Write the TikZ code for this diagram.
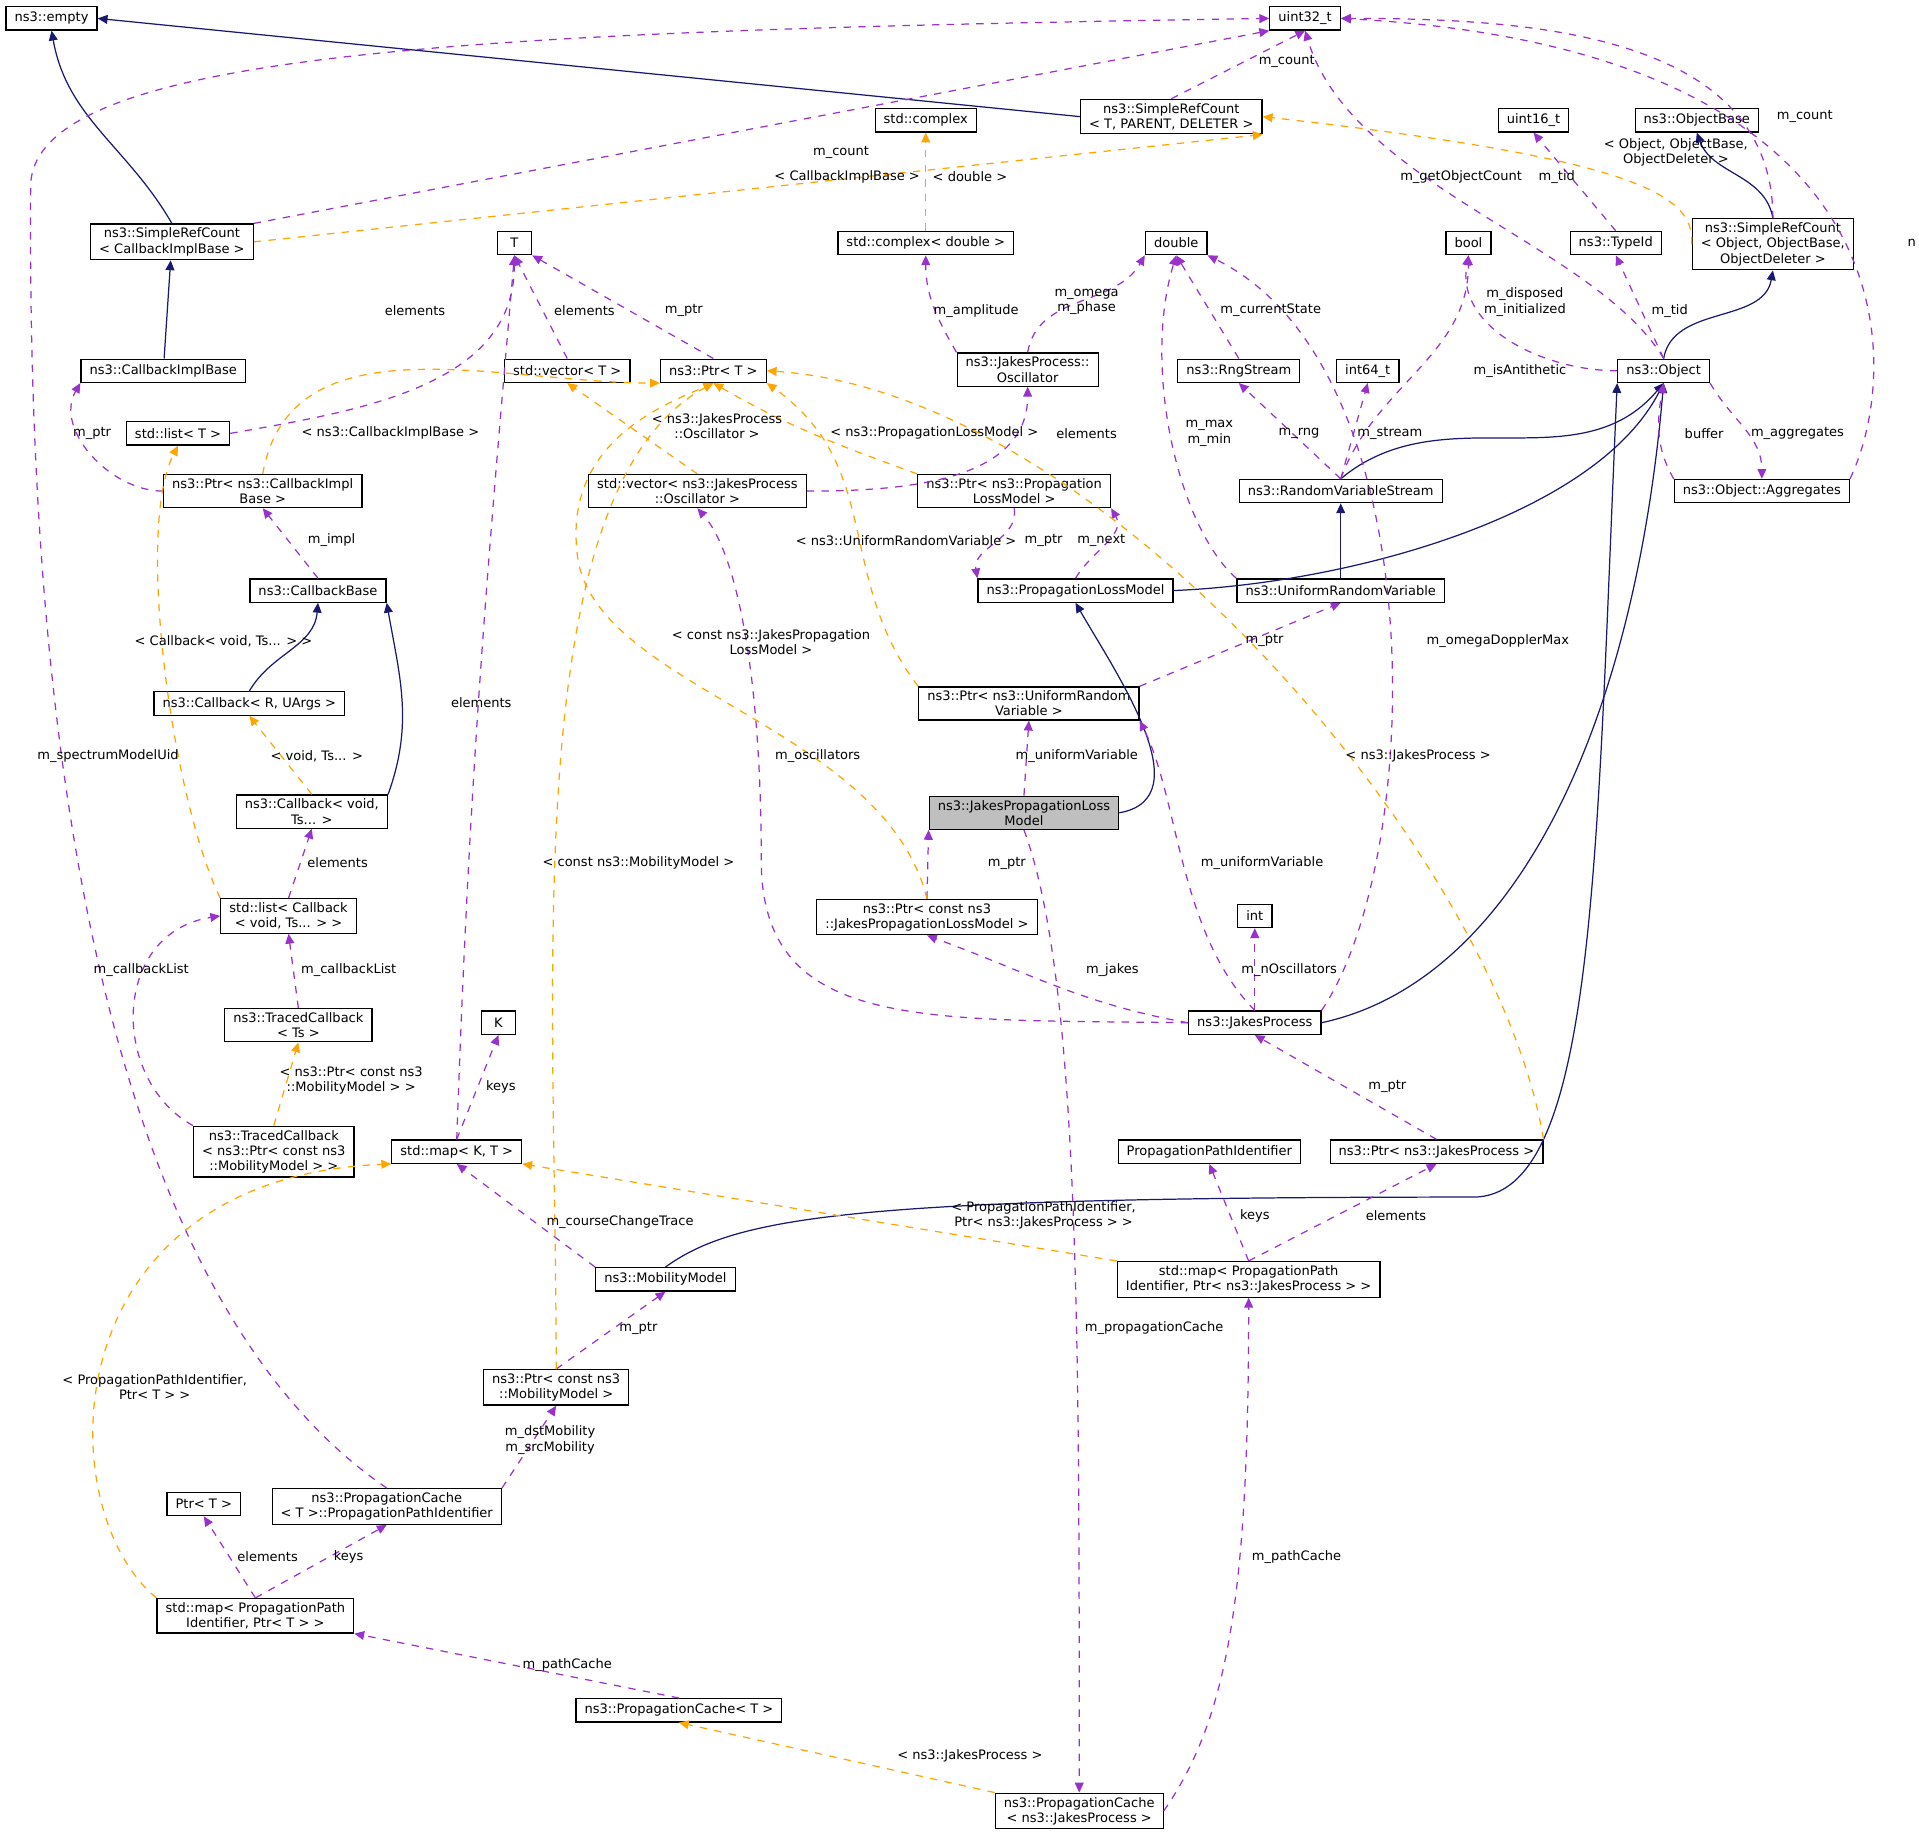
\documentclass[tikz,border=0pt]{standalone}
\usepackage{fontspec}
\setmainfont{DejaVu Sans}
\usetikzlibrary{arrows.meta}
\definecolor{inhcol}{RGB}{25,25,112}
\definecolor{usecol}{RGB}{153,50,204}
\definecolor{tplcol}{RGB}{255,165,0}
\tikzset{
  box/.style={draw, fill=white, inner xsep=3.5pt, inner ysep=1.6pt, minimum height=9.5pt, minimum width=14pt, align=center, font=\fontsize{5.3}{6.2}\selectfont},
  lab/.style={align=center, inner sep=0pt, font=\fontsize{5.3}{6.2}\selectfont},
  inh/.style={draw=inhcol, -{Triangle[length=4pt,width=3.6pt,fill=inhcol]}},
  use/.style={draw=usecol, dashed, -{Triangle[length=4pt,width=3.6pt,fill=usecol]}},
  tpl/.style={draw=tplcol, dashed, -{Triangle[length=4pt,width=3.6pt,fill=tplcol]}},
}
\begin{document}
\begin{tikzpicture}[x=0.5pt,y=-0.5pt,line width=0.5pt]
  \useasboundingbox[fill=white] (0,0) rectangle (1563,1492);

  % classes
  \node[box] (empty) at (42,15) {ns3::empty};
  \node[box] (uint32) at (1063,15) {uint32\_t};
  \node[box] (srcTPD) at (954,95) {ns3::SimpleRefCount\\{}< T, PARENT, DELETER >};
  \node[box] (stdcomplex) at (754,98) {std::complex};
  \node[box] (uint16) at (1249,98) {uint16\_t};
  \node[box] (objbase) at (1382,98) {ns3::ObjectBase};
  \node[box] (srcCIB) at (140,197) {ns3::SimpleRefCount\\{}< CallbackImplBase >};
  \node[box] (T) at (419,198) {T};
  \node[box] (complexd) at (754,198) {std::complex< double >};
  \node[box] (double) at (958,198) {double};
  \node[box] (bool) at (1196,198) {bool};
  \node[box] (typeid) at (1316,198) {ns3::TypeId};
  \node[box] (srcObj) at (1444,199) {ns3::SimpleRefCount\\{}< Object, ObjectBase,\\ObjectDeleter >};
  \node[box] (cbimplbase) at (133,302) {ns3::CallbackImplBase};
  \node[box] (stdvecT) at (462,302) {std::vector< T >};
  \node[box] (ptrT) at (581,302) {ns3::Ptr< T >};
  \node[box] (oscillator) at (837,301) {ns3::JakesProcess::\\Oscillator};
  \node[box] (rngstream) at (1009,302) {ns3::RngStream};
  \node[box] (int64) at (1114,302) {int64\_t};
  \node[box] (object) at (1355,302) {ns3::Object};
  \node[box] (stdlistT) at (145,353) {std::list< T >};
  \node[box] (ptrcib) at (214,400) {ns3::Ptr< ns3::CallbackImpl\\Base >};
  \node[box] (vecosc) at (568,400) {std::vector< ns3::JakesProcess\\::Oscillator >};
  \node[box] (ptrplm) at (826,400) {ns3::Ptr< ns3::Propagation\\LossModel >};
  \node[box] (rvs) at (1092,400) {ns3::RandomVariableStream};
  \node[box] (aggregates) at (1435,400) {ns3::Object::Aggregates};
  \node[box] (cbbase) at (259,481) {ns3::CallbackBase};
  \node[box] (plm) at (876,481) {ns3::PropagationLossModel};
  \node[box] (urv) at (1092,481) {ns3::UniformRandomVariable};
  \node[box] (cbRU) at (203,573) {ns3::Callback< R, UArgs >};
  \node[box] (ptrurv) at (838,573) {ns3::Ptr< ns3::UniformRandom\\Variable >};
  \node[box, fill={rgb,255:red,191;green,191;blue,191}] (jplm) at (834,662) {ns3::JakesPropagationLoss\\Model};
  \node[box] (cbvoid) at (254,661) {ns3::Callback< void,\\Ts... >};
  \node[box] (listcb) at (235,746) {std::list< Callback\\{}< void, Ts... > >};
  \node[box] (ptrcjplm) at (755,747) {ns3::Ptr< const ns3\\::JakesPropagationLossModel >};
  \node[box] (int) at (1022,746) {int};
  \node[box] (tracedTs) at (243,835) {ns3::TracedCallback\\{}< Ts >};
  \node[box] (jakes) at (1022,833) {ns3::JakesProcess};
  \node[box] (K) at (406,833) {K};
  \node[box] (tracedptr) at (223,938) {ns3::TracedCallback\\{}< ns3::Ptr< const ns3\\::MobilityModel > >};
  \node[box] (mapKT) at (372,938) {std::map< K, T >};
  \node[box] (ppi) at (985,938) {PropagationPathIdentifier};
  \node[box] (ptrjakes) at (1170,938) {ns3::Ptr< ns3::JakesProcess >};
  \node[box] (mobility) at (542,1042) {ns3::MobilityModel};
  \node[box] (mapppi) at (1017,1042) {std::map< PropagationPath\\Identifier, Ptr< ns3::JakesProcess > >};
  \node[box] (ptrcmm) at (453,1130) {ns3::Ptr< const ns3\\::MobilityModel >};
  \node[box] (ppiT) at (315,1227) {ns3::PropagationCache\\{}< T >::PropagationPathIdentifier};
  \node[box] (ptrTplain) at (166,1225) {Ptr< T >};
  \node[box] (mapppiT) at (208,1316) {std::map< PropagationPath\\Identifier, Ptr< T > >};
  \node[box] (pcT) at (553,1393) {ns3::PropagationCache< T >};
  \node[box] (pcjakes) at (879,1475) {ns3::PropagationCache\\{}< ns3::JakesProcess >};

  % inheritance
  \draw[inh] (srcCIB.north) to[out=120,in=-80] (empty.south);
  \draw[inh] (srcTPD.west) -- (empty.east);
  \draw[inh] (cbimplbase) -- (srcCIB);
  \draw[inh] (srcObj.north) to[out=100,in=-70] (objbase.south);
  \draw[inh] (object.north) to[out=80,in=-100] (srcObj.south);
  \draw[inh] (rvs.north) to[out=40,in=-130] (object.south);
  \draw[inh] (plm.east) .. controls (1100,475) and (1300,420) .. (object.south);
  \draw[inh] (urv) -- (rvs);
  \draw[inh] (cbRU.north) to[out=60,in=-95] (cbbase.south);
  \draw[inh] (cbvoid.north east) to[out=70,in=-80] (cbbase.south east);
  \draw[inh] (jplm.east) to[out=10,in=-60] (plm.south);
  \draw[inh] (jakes.east) .. controls (1230,800) and (1330,600) .. (object.south);
  \draw[inh] (mobility.north) .. controls (600,990) and (700,975) .. (1200,975)
     .. controls (1300,975) and (1300,700) .. (object.south west);

  % members
  \draw[use] (srcCIB.north east) -- (uint32.south west);
  \draw[use] (srcTPD.north) -- (uint32.south);
  \draw[use] (srcObj.north) to[out=90,in=0] (uint32.east);
  \draw[use] (object.north) .. controls (1300,200) and (1100,150) .. (uint32.south);
  \draw[use] (aggregates.north east) .. controls (1550,300) and (1560,40) .. (uint32.east);
  \draw[use] (ppiT.north) .. controls (150,1100) and (20,800) .. (25,150)
     .. controls (30,40) and (400,25) .. (uint32.west);
  \draw[use] (oscillator.north) to[out=80,in=-120] (double.south west);
  \draw[use] (rngstream.north) -- (double.south);
  \draw[use] (typeid.north) -- (uint16.south);
  \draw[use] (object.west) to[out=180,in=-100] (bool.south);
  \draw[use] (object.north) -- (typeid.south);
  \draw[use] (stdlistT.east) to[out=10,in=-90] (T.south);
  \draw[use] (stdvecT.north) -- (T.south);
  \draw[use] (ptrT.north) -- (T.south east);
  \draw[use] (oscillator.north west) to[out=120,in=-90] (complexd.south);
  \draw[use] (ptrcib.west) to[out=180,in=-120] (cbimplbase.south west);
  \draw[use] (vecosc.east) to[out=0,in=-90] (oscillator.south);
  \draw[use] (urv.north west) .. controls (960,430) and (930,300) .. (double.south);
  \draw[use] (rvs.north) -- (rngstream.south);
  \draw[use] (rvs.north) -- (int64.south);
  \draw[use] (rvs.north) to[out=70,in=-90] (bool.south);
  \draw[use] (aggregates.north west) to[out=120,in=-100] (object.south);
  \draw[use] (object.south east) to[out=-60,in=90] (aggregates.north);
  \draw[use] (cbbase.north) -- (ptrcib.south);
  \draw[use] (plm.north) to[out=60,in=-60] (ptrplm.south east);
  \draw[use] (ptrplm.south) to[out=-80,in=100] (plm.north west);
  \draw[use] (ptrurv.north east) -- (urv.south);
  \draw[use] (jplm.north) -- (ptrurv.south);
  \draw[use] (listcb.north) -- (cbvoid.south);
  \draw[use] (mapKT.north) to[out=88,in=-95] (T.south);
  \draw[use] (ptrcjplm.north) -- (jplm.south west);
  \draw[use] (jakes.north) -- (int.south);
  \draw[use] (jakes.west) to[out=170,in=-20] (ptrcjplm.south);
  \draw[use] (jakes.west) .. controls (750,830) and (620,840) .. (620,700)
     .. controls (620,550) and (600,450) .. (vecosc.south);
  \draw[use] (jakes.north) .. controls (960,760) and (960,650) .. (ptrurv.south east);
  \draw[use] (jakes.north east) .. controls (1160,700) and (1170,300) .. (double.south east);
  \draw[use] (tracedTs.north) -- (listcb.south);
  \draw[use] (tracedptr.north west) .. controls (90,880) and (90,760) .. (listcb.west);
  \draw[use] (mapKT.north) -- (K.south);
  \draw[use] (ptrjakes.north) -- (jakes.south);
  \draw[use] (mobility.north west) -- (mapKT.south);
  \draw[use] (mapppi.north) -- (ppi.south);
  \draw[use] (mapppi.north) -- (ptrjakes.south);
  \draw[use] (ptrcmm.north) -- (mobility.south);
  \draw[use] (ppiT.north east) -- (ptrcmm.south);
  \draw[use] (mapppiT.north) -- (ptrTplain.south);
  \draw[use] (mapppiT.north) -- (ppiT.south);
  \draw[use] (pcT.north) -- (mapppiT.south east);
  \draw[use] (pcjakes.east) .. controls (1000,1400) and (1017,1300) .. (mapppi.south);
  \draw[use] (jplm.south) .. controls (880,800) and (879,1100) .. (pcjakes.north);

  % templates
  \draw[tpl] (srcCIB.east) -- (srcTPD.south east);
  \draw[tpl] (srcObj.west) .. controls (1380,160) and (1340,130) .. (srcTPD.east);
  \draw[tpl] (complexd) -- (stdcomplex);
  \draw[tpl] (ptrcib.north) to[out=80,in=180] (ptrT.south west);
  \draw[tpl] (vecosc.north) -- (stdvecT.south);
  \draw[tpl] (ptrplm.north west) to[out=160,in=-30] (ptrT.south);
  \draw[tpl] (ptrurv.north west) .. controls (680,470) and (720,380) .. (ptrT.south east);
  \draw[tpl] (listcb.north west) .. controls (140,650) and (110,430) .. (stdlistT.south);
  \draw[tpl] (cbvoid.north) -- (cbRU.south);
  \draw[tpl] (ptrcjplm.north) .. controls (720,590) and (480,560) .. (470,450)
     .. controls (460,360) and (540,330) .. (ptrT.south);
  \draw[tpl] (ptrcmm.north) .. controls (453,800) and (420,400) .. (ptrT.south);
  \draw[tpl] (ptrjakes.north east) .. controls (1220,700) and (900,320) .. (ptrT.east);
  \draw[tpl] (tracedptr.north) -- (tracedTs.south);
  \draw[tpl] (mapppi.north west) -- (mapKT.south east);
  \draw[tpl] (mapppiT.north west) .. controls (40,1230) and (40,960) .. (mapKT.south west);
  \draw[tpl] (pcjakes.north west) -- (pcT.south);

  % labels
  \node[lab] at (1048,50) {m\_count};
  \node[lab] at (685,124) {m\_count};
  \node[lab] at (1470,95) {m\_count};
  \node[lab] at (1190,144) {m\_getObjectCount};
  \node[lab] at (1557,198) {n};
  \node[lab] at (690,144) {< CallbackImplBase >};
  \node[lab] at (790,144) {< double >};
  \node[lab] at (1365,124) {< Object, ObjectBase,\\ObjectDeleter >};
  \node[lab] at (1268,144) {m\_tid};
  \node[lab] at (338,253) {elements};
  \node[lab] at (476,253) {elements};
  \node[lab] at (557,253) {m\_ptr};
  \node[lab] at (795,253) {m\_amplitude};
  \node[lab] at (885,246) {m\_omega\\m\_phase};
  \node[lab] at (1035,253) {m\_currentState};
  \node[lab] at (1242,246) {m\_disposed\\m\_initialized};
  \node[lab] at (1360,253) {m\_tid};
  \node[lab] at (75,353) {m\_ptr};
  \node[lab] at (318,353) {< ns3::CallbackImplBase >};
  \node[lab] at (584,347) {< ns3::JakesProcess\\::Oscillator >};
  \node[lab] at (761,353) {< ns3::PropagationLossModel >};
  \node[lab] at (885,353) {elements};
  \node[lab] at (985,353) {m\_max\\m\_min};
  \node[lab] at (1058,353) {m\_rng};
  \node[lab] at (1132,353) {m\_stream};
  \node[lab] at (1238,302) {m\_isAntithetic};
  \node[lab] at (1388,353) {buffer};
  \node[lab] at (1464,353) {m\_aggregates};
  \node[lab] at (270,440) {m\_impl};
  \node[lab] at (850,440) {m\_ptr};
  \node[lab] at (897,440) {m\_next};
  \node[lab] at (738,440) {< ns3::UniformRandomVariable >};
  \node[lab] at (182,522) {< Callback< void, Ts... > >};
  \node[lab] at (628,523) {< const ns3::JakesPropagation\\LossModel >};
  \node[lab] at (1030,522) {m\_ptr};
  \node[lab] at (392,572) {elements};
  \node[lab] at (1220,522) {m\_omegaDopplerMax};
  \node[lab] at (258,616) {< void, Ts... >};
  \node[lab] at (88,616) {m\_spectrumModelUid};
  \node[lab] at (666,616) {m\_oscillators};
  \node[lab] at (877,616) {m\_uniformVariable};
  \node[lab] at (1155,616) {< ns3::JakesProcess >};
  \node[lab] at (275,703) {elements};
  \node[lab] at (520,703) {< const ns3::MobilityModel >};
  \node[lab] at (820,703) {m\_ptr};
  \node[lab] at (1028,703) {m\_uniformVariable};
  \node[lab] at (284,790) {m\_callbackList};
  \node[lab] at (115,790) {m\_callbackList};
  \node[lab] at (906,790) {m\_jakes};
  \node[lab] at (1050,790) {m\_nOscillators};
  \node[lab] at (408,885) {keys};
  \node[lab] at (286,880) {< ns3::Ptr< const ns3\\::MobilityModel > >};
  \node[lab] at (1130,885) {m\_ptr};
  \node[lab] at (505,995) {m\_courseChangeTrace};
  \node[lab] at (850,990) {< PropagationPathIdentifier,\\Ptr< ns3::JakesProcess > >};
  \node[lab] at (1022,990) {keys};
  \node[lab] at (1137,990) {elements};
  \node[lab] at (520,1082) {m\_ptr};
  \node[lab] at (940,1082) {m\_propagationCache};
  \node[lab] at (126,1130) {< PropagationPathIdentifier,\\Ptr< T > >};
  \node[lab] at (448,1173) {m\_dstMobility\\m\_srcMobility};
  \node[lab] at (1056,1268) {m\_pathCache};
  \node[lab] at (218,1268) {elements};
  \node[lab] at (284,1268) {keys};
  \node[lab] at (462,1356) {m\_pathCache};
  \node[lab] at (790,1430) {< ns3::JakesProcess >};
\end{tikzpicture}
\end{document}
